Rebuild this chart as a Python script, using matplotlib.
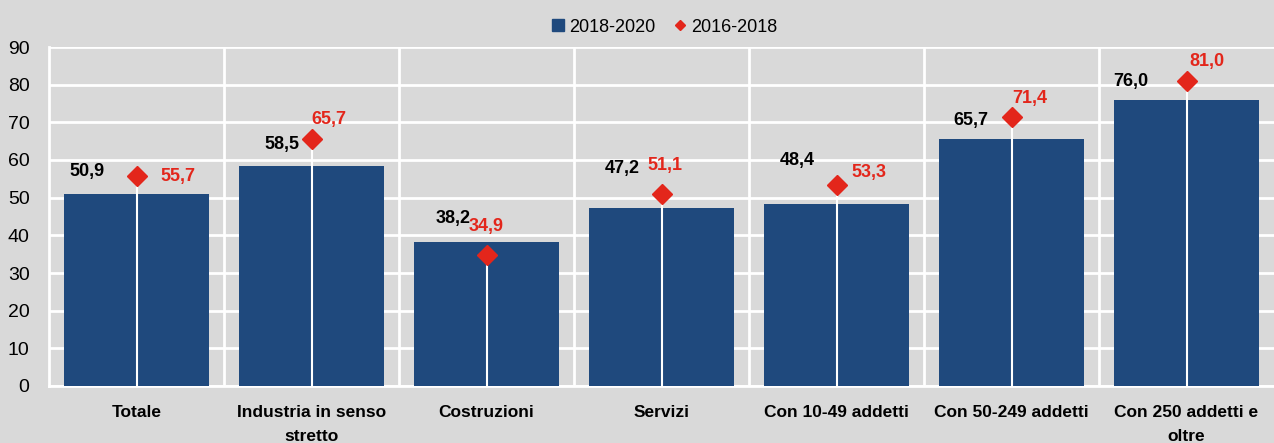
import matplotlib.pyplot as plt
from matplotlib import font_manager
from matplotlib.lines import Line2D
import numpy as np

categories = ['Totale', 'Industria in senso\nstretto', 'Costruzioni', 'Servizi',
              'Con 10-49 addetti', 'Con 50-249 addetti', 'Con 250 addetti e\noltre']
val_2018_2020 = [50.9, 58.5, 38.2, 47.2, 48.4, 65.7, 76.0]
val_2016_2018 = [55.7, 65.7, 34.9, 51.1, 53.3, 71.4, 81.0]

# label offsets in pixels (layout only)
bar_lbl_off = [(-50, 23), (-30, 21), (-33, 24), (-39, 40), (-39, 43), (-41, 18), (-56, 18)]
dia_lbl_off = [(41, 0), (17, 19), (0, 28), (3, 28), (32, 13), (18, 19), (20, 19)]

names = {f.name for f in font_manager.fontManager.ttflist}
narrow = 'Liberation Sans Narrow' if 'Liberation Sans Narrow' in names else 'Liberation Sans'
plt.rcParams['font.family'] = [narrow, 'DejaVu Sans']

BG = '#D9D9D9'
BLUE = '#1F497D'
RED = '#E3261B'

fig = plt.figure(figsize=(12.74, 4.43), dpi=100, facecolor=BG)
ax = fig.add_axes([49 / 1274, 1 - 386 / 443, 1 - 49 / 1274, (386 - 47) / 443])
ax.set_facecolor(BG)

x = np.arange(len(categories))
ax.bar(x, val_2018_2020, width=0.83, color=BLUE, zorder=2, label='2018-2020')
ax.vlines(x, 0, val_2016_2018, color='white', linewidth=1.5, zorder=3)
ax.plot(x, val_2016_2018, linestyle='none', marker='D', markersize=10.5, color=RED,
        zorder=4, label='2016-2018')

fmt = lambda v: f'{v:.1f}'.replace('.', ',')
for i in range(len(x)):
    ax.annotate(fmt(val_2018_2020[i]), (x[i], val_2018_2020[i]), xytext=bar_lbl_off[i],
                textcoords='offset pixels', ha='center', va='center',
                fontsize=13, fontweight='bold', color='black', zorder=5)
    ax.annotate(fmt(val_2016_2018[i]), (x[i], val_2016_2018[i]), xytext=dia_lbl_off[i],
                textcoords='offset pixels', ha='center', va='center',
                fontsize=13, fontweight='bold', color=RED, zorder=5)

ax.set_xlim(-0.5, len(categories) - 0.5)
ax.set_ylim(0, 90)
ax.set_yticks(range(0, 91, 10))
ax.set_xticks(x)
ax.set_xticklabels(categories, fontsize=12.5, fontweight='bold', va='top', linespacing=1.75)
ax.tick_params(axis='both', length=0)
ax.tick_params(axis='x', pad=14, labelsize=12.5)
ax.tick_params(axis='y', pad=14, labelsize=14)

ax.yaxis.grid(True, color='white', linewidth=2, zorder=0)
ax.set_axisbelow(True)
for b in np.arange(0.5, len(categories) - 0.5, 1):
    ax.axvline(b, color='white', linewidth=2, zorder=1)
for s in ['top', 'right']:
    ax.spines[s].set_visible(False)
for s in ['left', 'bottom']:
    ax.spines[s].set_color('white')
    ax.spines[s].set_linewidth(2)
    ax.spines[s].set_zorder(1)

h_bar = Line2D([], [], linestyle='none', marker='s', markersize=9, color=BLUE)
h_dia = Line2D([], [], linestyle='none', marker='D', markersize=5, color=RED)
fig.legend([h_bar, h_dia], ['2018-2020', '2016-2018'], loc='center',
           bbox_to_anchor=(664 / 1274, 1 - 27 / 443), ncol=2, frameon=False,
           fontsize=13, handlelength=0.8, handletextpad=0.2, columnspacing=1.0)

fig.savefig('out.png', dpi=100, facecolor=BG)
